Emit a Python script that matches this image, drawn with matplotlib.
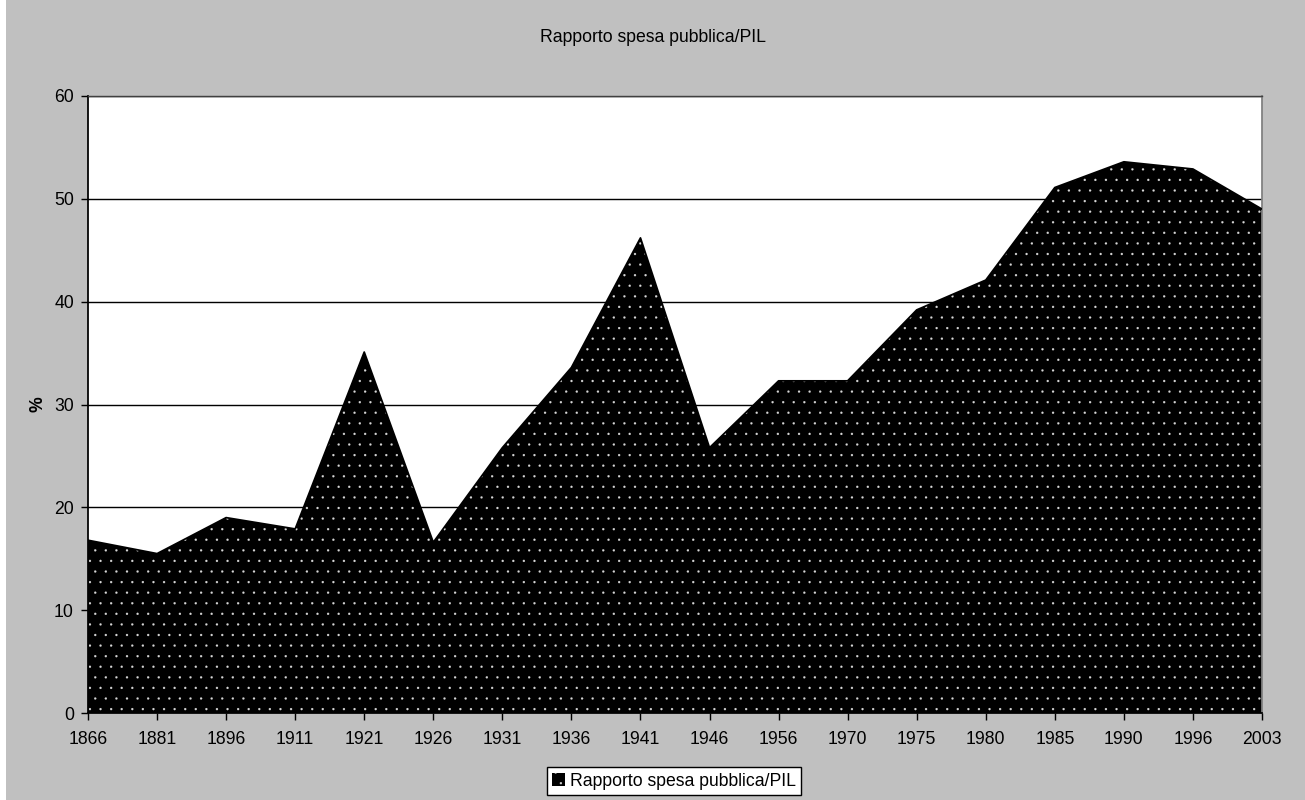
import matplotlib
matplotlib.use("Agg")
import matplotlib.pyplot as plt
from matplotlib.patches import Rectangle
import numpy as np

years = ["1866", "1881", "1896", "1911", "1921", "1926", "1931", "1936", "1941",
         "1946", "1956", "1970", "1975", "1980", "1985", "1990", "1996", "2003"]
spesa_pil = [16.8, 15.5, 19.0, 17.9, 35.1, 16.6, 25.8, 33.6, 46.2,
             25.8, 32.3, 32.3, 39.2, 42.1, 51.1, 53.6, 52.9, 49.0]
y_ticks = [0, 10, 20, 30, 40, 50, 60]

plt.rcParams["font.family"] = ["Liberation Sans", "DejaVu Sans"]
plt.rcParams["font.size"] = 10
plt.rcParams["hatch.color"] = "#d8d8d8"
plt.rcParams["hatch.linewidth"] = 0.1

fig = plt.figure(figsize=(1305 / 127, 800 / 127), dpi=127, facecolor="white")
# grey chart background
fig.patches.append(Rectangle((6 / 1305, 0), 1, 1, transform=fig.transFigure,
                             facecolor="#c0c0c0", edgecolor="none", zorder=-10))

ax = fig.add_axes([88 / 1305, 1 - 713 / 800, (1262 - 88) / 1305, (713 - 96) / 800])
ax.set_facecolor("white")

x = np.arange(len(years))
ax.fill_between(x, 0, spesa_pil, facecolor="black", edgecolor="#d8d8d8",
                linewidth=0, hatch="..", zorder=2, label="Rapporto spesa pubblica/PIL")
ax.plot(x, spesa_pil, color="black", linewidth=1.0, zorder=3)

ax.set_xlim(0, len(years) - 1)
ax.set_ylim(0, 60)
ax.set_xticks(x)
ax.set_xticklabels(years)
ax.set_yticks(y_ticks)
ax.yaxis.grid(True, color="black", linewidth=0.8, zorder=1)
ax.set_axisbelow(True)
ax.tick_params(axis="both", direction="out", length=4, width=0.8, colors="black",
               labelsize=10)
ax.tick_params(axis="x", pad=6)
ax.tick_params(axis="y", pad=4)

for side in ["left", "bottom"]:
    ax.spines[side].set_color("black")
    ax.spines[side].set_linewidth(1.0)
ax.spines["top"].set_color("#404040")
ax.spines["right"].set_color("#808080")
ax.spines["top"].set_linewidth(0.8)
ax.spines["right"].set_linewidth(1.0)

ax.set_ylabel("%", fontweight="bold", labelpad=4)

fig.text(0.5, 1 - 37 / 800, "Rapporto spesa pubblica/PIL", ha="center", va="center",
         fontsize=10)

leg = fig.legend(loc="center", bbox_to_anchor=(674 / 1305, 1 - 781 / 800), frameon=True,
                 fancybox=False, edgecolor="black", framealpha=1, fontsize=10,
                 handlelength=0.7, handleheight=0.7, handletextpad=0.3,
                 borderpad=0.3, borderaxespad=0)
leg.get_frame().set_linewidth(0.8)

fig.savefig("out.png", dpi=127, facecolor=fig.get_facecolor())
